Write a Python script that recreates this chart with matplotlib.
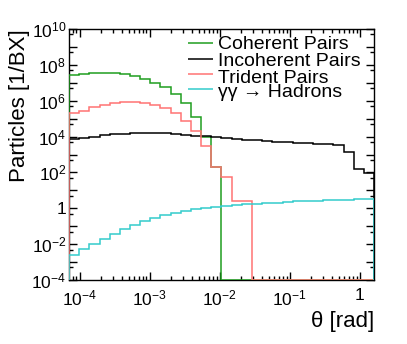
import numpy as np
import matplotlib
matplotlib.use("Agg")
import matplotlib.pyplot as plt
from matplotlib.ticker import FixedLocator, FuncFormatter, LogLocator, NullFormatter

plt.rcParams['font.family'] = ['Liberation Sans', 'DejaVu Sans']
plt.rcParams['mathtext.fontset'] = 'custom'
plt.rcParams['mathtext.rm'] = 'Liberation Sans'
plt.rcParams['mathtext.it'] = 'Liberation Sans:italic'
plt.rcParams['mathtext.bf'] = 'Liberation Sans:bold'

# ---- data: 30 log-spaced theta bins ----
log_theta_min = -4.15
log_theta_max = 0.2
n_bins = 30

coherent = [2.6e7, 3.2e7, 3.55e7, 3.6e7, 3.3e7, 2.9e7, 2.3e7, 1.6e7, 1.0e7, 5.6e6,
            2.3e6, 7.2e5, 1.3e5, 9.8e3, 2.1e2, 0, 0, 0, 0, 0,
            0, 0, 0, 0, 0, 0, 0, 0, 0, 0]
incoherent = [7.2e3, 8.7e3, 9.8e3, 1.17e4, 1.35e4, 1.45e4, 1.51e4, 1.58e4, 1.58e4, 1.51e4,
              1.38e4, 1.26e4, 1.12e4, 1.02e4, 9.1e3, 7.9e3, 7.2e3, 6.8e3, 6.2e3, 5.6e3,
              5.1e3, 4.7e3, 4.4e3, 4.2e3, 4.0e3, 3.7e3, 3.4e3, 1.45e3, 1.48e2, 95]
trident = [2.0e5, 2.75e5, 4.3e5, 6.0e5, 7.4e5, 8.1e5, 8.1e5, 7.2e5, 5.75e5, 3.8e5,
           2.0e5, 7.4e4, 2.1e4, 2.95e3, 2.1e2, 54, 2.6, 2.6, 0, 0,
           0, 0, 0, 0, 0, 0, 0, 0, 0, 0]
hadrons = [2.6e-3, 5.6e-3, 1.02e-2, 1.95e-2, 3.7e-2, 6.8e-2, 0.112, 0.186, 0.295, 0.41,
           0.56, 0.74, 0.91, 1.07, 1.17, 1.35, 1.51, 1.66, 1.82, 1.95,
           2.09, 2.24, 2.40, 2.51, 2.63, 2.75, 2.88, 3.02, 3.16, 3.31]

series_labels = ["Coherent Pairs", "Incoherent Pairs", "Trident Pairs", "\u03b3\u03b3 \u2192 Hadrons"]
series_colors = ["#1f9e1f", "#000000", "#ff7373", "#33cccc"]

y_min, y_max = 1e-4, 1e10
x_label = "\u03b8 [rad]"
y_label = "Particles [1/BX]"

edges = np.logspace(log_theta_min, log_theta_max, n_bins + 1)

fig = plt.figure(figsize=(4.07, 3.44), dpi=100)
ax = fig.add_axes([69/407, 1 - 280/344, 305/407, 251/344])

for vals, col in zip([coherent, incoherent, trident, hadrons], series_colors):
    v = np.asarray(vals, dtype=float)
    v = np.where(v > 0, v, y_min)
    ax.stairs(v, edges, baseline=y_min, color=col, lw=1.1, zorder=3)

ax.set_xscale('log')
ax.set_yscale('log')
ax.set_xlim(edges[0], edges[-1])
ax.set_ylim(y_min, y_max)

# y ticks
ax.yaxis.set_major_locator(FixedLocator([10.0**k for k in range(-4, 11)]))
def yfmt(v, pos):
    e = int(round(np.log10(v)))
    if e % 2:
        return ""
    if e == 0:
        return "1"
    return r"$\mathregular{10^{%d}}$" % e
ax.yaxis.set_major_formatter(FuncFormatter(yfmt))
ax.yaxis.set_minor_locator(LogLocator(base=10, subs=[5.0], numticks=50))
ax.yaxis.set_minor_formatter(NullFormatter())

def xfmt(v, pos):
    e = int(round(np.log10(v)))
    if e == 0:
        return "1"
    return r"$\mathregular{10^{%d}}$" % e
ax.xaxis.set_major_locator(FixedLocator([1e-4, 1e-3, 1e-2, 1e-1, 1.0]))
ax.xaxis.set_major_formatter(FuncFormatter(xfmt))
ax.xaxis.set_minor_locator(LogLocator(base=10, subs=np.arange(2, 10), numticks=50))
ax.xaxis.set_minor_formatter(NullFormatter())

ax.tick_params(which='both', direction='in', top=True, right=True, width=1.0)
ax.tick_params(which='major', length=6, labelsize=12.5)
ax.tick_params(axis='y', which='major', pad=2)
ax.tick_params(axis='x', which='major', pad=6)
ax.tick_params(which='minor', length=3)
for s in ax.spines.values():
    s.set_linewidth(1.0)

ax.set_ylabel(y_label, fontsize=16, loc='top')
ax.yaxis.set_label_coords(-0.128, 1.0)
ax.set_xlabel(x_label, fontsize=16, loc='right')
ax.xaxis.set_label_coords(1.0, -0.124)

# legend (manual, ROOT-style, no frame)
line_y = [0.943, 0.880, 0.821, 0.761]
text_y = [0.919, 0.851, 0.786, 0.728]
for lab, col, ly, ty in zip(series_labels, series_colors, line_y, text_y):
    ax.plot([0.390, 0.472], [ly, ly], transform=ax.transAxes, color=col, lw=1.1,
            solid_capstyle='butt', clip_on=False, zorder=4)
    ax.text(0.4885, ty, lab, transform=ax.transAxes, fontsize=14, va='baseline', ha='left',
            zorder=4)

fig.savefig("out.png", dpi=100)
